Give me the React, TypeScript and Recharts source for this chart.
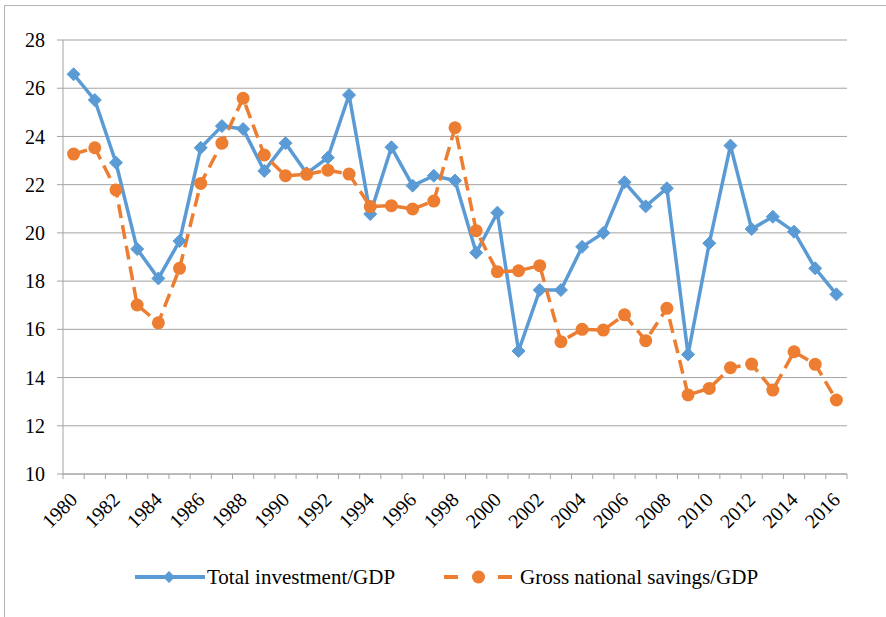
import React from "react";
import { LineChart, Line, XAxis, YAxis, CartesianGrid, Legend } from "recharts";

const years = [
  1980, 1981, 1982, 1983, 1984, 1985, 1986, 1987, 1988, 1989, 1990, 1991, 1992,
  1993, 1994, 1995, 1996, 1997, 1998, 1999, 2000, 2001, 2002, 2003, 2004, 2005,
  2006, 2007, 2008, 2009, 2010, 2011, 2012, 2013, 2014, 2015, 2016,
];

const totalInvestment = [
  26.58, 25.51, 22.91, 19.33, 18.11, 19.66, 23.53, 24.43, 24.31, 22.57, 23.72,
  22.47, 23.12, 25.72, 20.78, 23.55, 21.96, 22.37, 22.17, 19.18, 20.84, 15.1,
  17.63, 17.63, 19.42, 20.0, 22.1, 21.1, 21.85, 14.96, 19.57, 23.62, 20.16,
  20.67, 20.05, 18.53, 17.45,
];

const grossSavings = [
  23.27, 23.53, 21.78, 17.01, 16.27, 18.53, 22.05, 23.72, 25.58, 23.23, 22.37,
  22.43, 22.6, 22.44, 21.09, 21.13, 20.99, 21.32, 24.36, 20.09, 18.39, 18.43,
  18.64, 15.49, 16.0, 15.97, 16.6, 15.53, 16.87, 13.28, 13.55, 14.41, 14.56,
  13.48, 15.07, 14.55, 13.07,
];

const yTicks = [10, 12, 14, 16, 18, 20, 22, 24, 26, 28];
const labelYears = years.filter((y) => y % 2 === 0);

const seriesNames = ["Total investment/GDP", "Gross national savings/GDP"];

const BLUE = "#5B9BD5";
const ORANGE = "#ED7D31";
const GRID = "#a3a3a3";
const FONT = "Liberation Serif";

const data = years.map((y, i) => ({
  year: y,
  inv: totalInvestment[i],
  sav: grossSavings[i],
}));

const boundaryTicks = [...years.map((y) => y - 0.5), years[years.length - 1] + 0.5];
const xTicks = [...boundaryTicks, ...labelYears].sort((a, b) => a - b);

const Diamond = (props: any) => {
  const { cx, cy } = props;
  if (cx == null || cy == null) return null;
  const s = 6.5;
  return (
    <polygon
      points={`${cx},${cy - s} ${cx + s},${cy} ${cx},${cy + s} ${cx - s},${cy}`}
      fill={BLUE}
      stroke={BLUE}
      strokeWidth={1}
    />
  );
};

const Dot = (props: any) => {
  const { cx, cy } = props;
  if (cx == null || cy == null) return null;
  return <circle cx={cx} cy={cy} r={6.5} fill={ORANGE} />;
};

const XTick = (props: any) => {
  const { x, y, payload } = props;
  const v = payload.value;
  if (!Number.isInteger(v)) {
    return <line x1={x} y1={y} x2={x} y2={y + 5} stroke={GRID} strokeWidth={1} />;
  }
  const tx = x + 5;
  const ty = y + 27;
  return (
    <text
      x={tx}
      y={ty}
      textAnchor="end"
      transform={`rotate(-45 ${tx} ${ty})`}
      fontFamily={FONT}
      fontSize={20}
      fill="#000"
    >
      {v}
    </text>
  );
};

const LegendContent = () => (
  <div
    style={{
      height: 40,
      display: "flex",
      alignItems: "center",
      paddingLeft: 135,
      fontFamily: FONT,
      fontSize: 21,
      color: "#000",
      whiteSpace: "nowrap",
    }}
  >
    <svg width={72} height={20} style={{ display: "block" }}>
      <line x1={0} y1={10} x2={70} y2={10} stroke={BLUE} strokeWidth={4} />
      <polygon points="34,4 40,10 34,16 28,10" fill={BLUE} />
    </svg>
    <span>{seriesNames[0]}</span>
    <svg width={76} height={20} style={{ display: "block", marginLeft: 49 }}>
      <line x1={0} y1={10} x2={68} y2={10} stroke={ORANGE} strokeWidth={4} strokeDasharray="14 40" />
      <circle cx={34.5} cy={10} r={6.5} fill={ORANGE} />
    </svg>
    <span>{seriesNames[1]}</span>
  </div>
);

export default function App() {
  return (
    <div
      style={{
        position: "absolute",
        left: 0,
        top: 0,
        width: 886,
        height: 617,
        overflow: "hidden",
        background: "#fff",
      }}
    >
      <div
        style={{
          position: "absolute",
          left: 4,
          top: 5,
          width: 1000,
          height: 1000,
          borderLeft: "1px solid #b5b5b5",
          borderTop: "1px solid #b5b5b5",
        }}
      />
      <div style={{ position: "absolute", left: 0, top: 0 }}>
        <LineChart
          width={886}
          height={617}
          data={data}
          margin={{ top: 40, right: 39, left: 0, bottom: 20 }}
        >
          <CartesianGrid vertical={false} stroke={GRID} strokeWidth={1} />
          <XAxis
            dataKey="year"
            type="number"
            domain={[1979.5, 2016.5]}
            ticks={xTicks}
            interval={0}
            tickLine={false}
            tickSize={0}
            tickMargin={0}
            height={83}
            axisLine={{ stroke: GRID, strokeWidth: 1 }}
            tick={<XTick />}
            allowDataOverflow
          />
          <YAxis
            domain={[10, 28]}
            ticks={yTicks}
            interval={0}
            width={63}
            tickSize={6}
            tickMargin={12}
            tickLine={{ stroke: GRID }}
            axisLine={{ stroke: GRID, strokeWidth: 1 }}
            tick={{ fontFamily: FONT, fontSize: 20, fill: "#000" }}
          />
          <Legend verticalAlign="bottom" content={<LegendContent />} />
          <Line
            type="linear"
            dataKey="inv"
            name={seriesNames[0]}
            stroke={BLUE}
            strokeWidth={3.5}
            dot={<Diamond />}
            activeDot={false}
            isAnimationActive={false}
          />
          <Line
            type="linear"
            dataKey="sav"
            name={seriesNames[1]}
            stroke={ORANGE}
            strokeWidth={3.5}
            strokeDasharray="14 7"
            dot={<Dot />}
            activeDot={false}
            isAnimationActive={false}
          />
        </LineChart>
      </div>
    </div>
  );
}
